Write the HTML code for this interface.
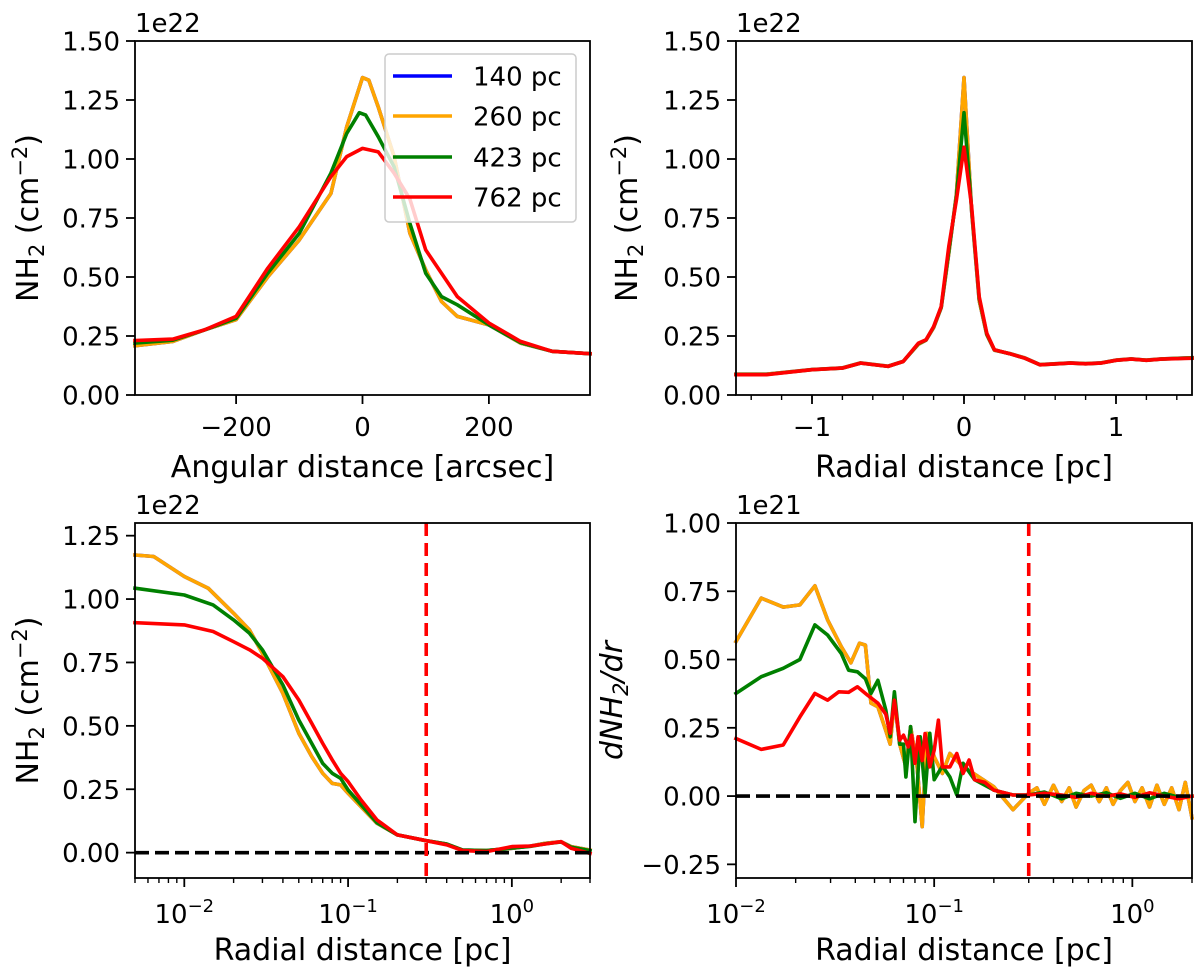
<!DOCTYPE html>
<html><head><meta charset="utf-8">
<style>
html,body{margin:0;padding:0;background:#fff;}
svg{display:block;font-family:"DejaVu Sans","Liberation Sans",sans-serif;}
</style></head>
<body>
<svg id="fig" width="1200" height="977" viewBox="0 0 1200 977" xmlns="http://www.w3.org/2000/svg"></svg>
<script>
// ---------- Panel 1: angular profile ----------
const p1X = [-360,-300,-250,-200,-150,-100,-50,-25,0,10,25,50,75,100,125,150,200,250,300,360];
const p1Orange = [0.209,0.227,0.276,0.319,0.50,0.657,0.854,1.136,1.345,1.334,1.22,1.01,0.685,0.53,0.396,0.333,0.297,0.22,0.185,0.175];
const p1GX = [-360,-300,-250,-200,-150,-100,-50,-25,-5,5,25,50,75,100,125,150,200,250,300,360];
const p1Green = [0.22,0.232,0.276,0.325,0.516,0.685,0.94,1.108,1.196,1.186,1.094,0.967,0.727,0.516,0.417,0.382,0.297,0.222,0.185,0.175];
const p1RX = [-360,-300,-250,-200,-150,-100,-50,-25,0,25,50,75,100,150,200,250,300,360];
const p1Red = [0.231,0.237,0.276,0.333,0.537,0.713,0.925,1.01,1.045,1.03,0.94,0.83,0.615,0.417,0.305,0.227,0.185,0.175];
const p1XTicks = [-200,0,200];
const p1XTickLabels = ["\u2212200","0","200"];
// ---------- Panel 2: radial profile ----------
const p2X = [-1.5,-1.3,-1.0,-0.8,-0.68,-0.5,-0.4,-0.3,-0.25,-0.2,-0.15,-0.1,-0.05,0,0.05,0.1,0.15,0.2,0.3,0.4,0.5,0.7,0.8,0.9,1.0,1.1,1.2,1.3,1.5];
const p2Red = [0.086,0.086,0.107,0.114,0.135,0.121,0.142,0.22,0.234,0.29,0.375,0.63,0.826,1.05,0.80,0.417,0.262,0.192,0.175,0.156,0.128,0.135,0.132,0.135,0.147,0.152,0.147,0.152,0.156];
const p2Orange = [0.088,0.088,0.108,0.115,0.136,0.122,0.143,0.215,0.232,0.285,0.37,0.60,0.85,1.345,0.78,0.40,0.255,0.19,0.176,0.157,0.129,0.136,0.133,0.136,0.148,0.153,0.148,0.153,0.158];
const p2Green = [0.087,0.087,0.107,0.114,0.135,0.121,0.142,0.218,0.233,0.288,0.372,0.61,0.84,1.196,0.79,0.41,0.258,0.191,0.175,0.156,0.128,0.135,0.132,0.135,0.147,0.152,0.147,0.152,0.157];
const p2XTicks = [-1,0,1];
const p2XTickLabels = ["\u22121","0","1"];
// ---------- Panel 3: log radial profile ----------
const p3OX = [0.005,0.0065,0.01,0.014,0.02,0.025,0.03,0.04,0.05,0.06,0.07,0.08,0.09,0.1,0.15,0.2,0.3,0.4,0.5,0.7,1.0,1.3,1.6,2.0,2.3,3.0];
const p3Orange = [1.174,1.168,1.089,1.043,0.944,0.878,0.786,0.628,0.471,0.379,0.313,0.273,0.267,0.234,0.116,0.07,0.047,0.034,0.01,0.008,0.017,0.026,0.037,0.043,0.024,0.01];
const p3GX = [0.005,0.01,0.015,0.02,0.025,0.03,0.04,0.05,0.06,0.07,0.08,0.09,0.1,0.15,0.2,0.3,0.4,0.5,0.7,1.0,1.3,1.6,2.0,2.3,3.0];
const p3Green = [1.043,1.016,0.977,0.918,0.865,0.80,0.661,0.523,0.431,0.352,0.313,0.293,0.247,0.118,0.07,0.047,0.034,0.01,0.008,0.018,0.025,0.035,0.042,0.022,0.008];
const p3RX = [0.005,0.01,0.015,0.02,0.025,0.03,0.04,0.05,0.06,0.07,0.08,0.09,0.1,0.12,0.15,0.2,0.3,0.4,0.5,0.7,1.0,1.3,1.6,2.0,2.3,3.0];
const p3Red = [0.907,0.898,0.872,0.832,0.80,0.767,0.694,0.602,0.51,0.431,0.366,0.313,0.28,0.208,0.129,0.07,0.047,0.031,0.008,0.004,0.024,0.026,0.034,0.043,0.017,-0.003];
const p3XTickExp = [-2,-1,0];
// ---------- Panel 4: derivative ----------
const p4OX = [0.01,0.0134,0.0173,0.021,0.025,0.029,0.034,0.038,0.042,0.045,0.048,0.052,0.057,0.06,0.063,0.067,0.072,0.076,0.082,0.087,0.092,0.1,0.11,0.12,0.14,0.16,0.2,0.25,0.3,0.33,0.36,0.4,0.44,0.48,0.52,0.57,0.62,0.68,0.74,0.8,0.87,0.95,1.03,1.12,1.22,1.33,1.45,1.58,1.72,1.85,2.0];
const p4Orange = [0.566,0.725,0.692,0.70,0.77,0.645,0.547,0.488,0.56,0.553,0.34,0.327,0.24,0.19,0.35,0.19,0.107,0.254,0.107,-0.112,0.23,0.144,0.083,0.156,0.107,0.08,0.034,-0.05,0.01,0.03,-0.03,0.04,-0.02,0.03,-0.04,0.02,0.04,-0.02,0.03,-0.03,0.02,0.05,-0.02,0.03,-0.04,0.04,-0.03,0.03,-0.05,0.05,-0.08];
const p4GX = [0.01,0.0134,0.0173,0.021,0.025,0.029,0.034,0.037,0.041,0.045,0.048,0.052,0.057,0.06,0.063,0.067,0.07,0.072,0.076,0.08,0.085,0.09,0.095,0.1,0.11,0.12,0.13,0.14,0.16,0.2,0.25,0.3,0.36,0.44,0.52,0.62,0.74,0.87,1.03,1.22,1.45,1.72,2.0];
const p4Green = [0.376,0.437,0.468,0.50,0.627,0.59,0.522,0.461,0.455,0.43,0.376,0.424,0.315,0.217,0.382,0.19,0.19,0.07,0.254,-0.094,0.217,0.01,0.23,0.06,0.11,0.07,0.004,0.12,0.06,0.022,0.004,0.004,0.015,-0.01,0.01,0.0,0.012,-0.008,0.01,-0.01,0.01,-0.005,0.0];
const p4RX = [0.01,0.0134,0.0173,0.021,0.025,0.029,0.033,0.037,0.041,0.046,0.052,0.057,0.06,0.063,0.067,0.07,0.074,0.077,0.08,0.083,0.087,0.09,0.095,0.1,0.105,0.11,0.12,0.13,0.14,0.15,0.16,0.18,0.2,0.25,0.3,0.36,0.44,0.52,0.62,0.74,0.87,1.03,1.22,1.45,1.72,2.0];
const p4Red = [0.211,0.171,0.187,0.29,0.376,0.351,0.382,0.38,0.40,0.37,0.34,0.30,0.23,0.351,0.205,0.223,0.18,0.223,0.12,0.217,0.13,0.229,0.107,0.168,0.278,0.107,0.107,0.156,0.083,0.132,0.06,0.05,0.022,0.004,0.004,0.01,0.004,-0.005,0.01,0.0,0.008,-0.005,0.012,0.0,-0.01,0.0];
const p4XTickExp = [-2,-1,0];

const NS = "http://www.w3.org/2000/svg";
const fig = document.getElementById('fig');
const TICKFS = 26, LABFS = 30;
function el(tag, attrs, parent){ const e=document.createElementNS(NS,tag); for(const k in attrs) e.setAttribute(k,attrs[k]); (parent||fig).appendChild(e); return e; }

function makeAxis(L,R,T,B,xmin,xmax,ymin,ymax,logx){
  const fx = logx ? v => L+(Math.log10(v)-Math.log10(xmin))/(Math.log10(xmax)-Math.log10(xmin))*(R-L)
                  : v => L+(v-xmin)/(xmax-xmin)*(R-L);
  const fy = v => B-(v-ymin)/(ymax-ymin)*(B-T);
  return {L,R,T,B,fx,fy};
}
function drawLine(ax, xs, ys, color, name, g){
  let d='';
  for(let i=0;i<xs.length;i++){ d+=(i?'L':'M')+ax.fx(xs[i]).toFixed(1)+' '+ax.fy(ys[i]).toFixed(1); }
  const p = el('path',{d:d,fill:'none',stroke:color,'stroke-width':3.6,'stroke-linejoin':'round','stroke-linecap':'square'},g);
  
  
}
function frame(ax, g){
  const r = el('rect',{x:ax.L,y:ax.T,width:ax.R-ax.L,height:ax.B-ax.T,fill:'none',stroke:'#000','stroke-width':1.8},g);
  
  
}
function yTicks(ax, vals, g){
  vals.forEach(v=>{
    const y = ax.fy(v);
    el('line',{x1:ax.L-9,x2:ax.L,y1:y,y2:y,stroke:'#000','stroke-width':1.8},g);
    const t = el('text',{x:ax.L-15,y:y+9.5,'text-anchor':'end','font-size':TICKFS},g);
    
    
    t.textContent = (v<0?'\u2212':'')+Math.abs(v).toFixed(2);
  });
}
function xTicksLin(ax, vals, labels, g){
  vals.forEach((v,i)=>{
    const x = ax.fx(v);
    el('line',{x1:x,x2:x,y1:ax.B,y2:ax.B+9,stroke:'#000','stroke-width':1.8},g);
    const t = el('text',{x:x,y:ax.B+41,'text-anchor':'middle','font-size':TICKFS},g);
    
    
    t.textContent = labels[i];
  });
}
function xTicksLog(ax, exps, xmin, xmax, g){
  for(let e=-3;e<=1;e++){
    for(let m=1;m<10;m++){
      const v = m*Math.pow(10,e);
      if(v<xmin*0.999||v>xmax*1.001) continue;
      const x = ax.fx(v);
      el('line',{x1:x,x2:x,y1:ax.B,y2:ax.B+(m===1?9:5),stroke:'#000','stroke-width':m===1?1.8:1.4},g);
    }
  }
  exps.forEach(e=>{
    const x = ax.fx(Math.pow(10,e));
    const t = el('text',{x:x,y:ax.B+45,'text-anchor':'middle','font-size':TICKFS},g);
    
    
    const a = document.createElementNS(NS,'tspan'); a.textContent='10'; t.appendChild(a);
    const b = document.createElementNS(NS,'tspan'); b.setAttribute('dy','-11'); b.setAttribute('font-size','18');
    b.textContent = e<0 ? '\u2212'+(-e) : String(e); t.appendChild(b);
  });
}
function xLabel(ax, txt, g){
  const t = el('text',{x:(ax.L+ax.R)/2,y:ax.B+82,'text-anchor':'middle','font-size':LABFS},g);
  
  
  t.textContent = txt;
}
function offsetText(ax, txt, g){
  const t = el('text',{x:ax.L,y:ax.T-9,'font-size':TICKFS},g);
  
  
  t.textContent = txt;
}
function yLabelNH(ax, cx, g){
  const cy=(ax.T+ax.B)/2;
  const t = el('text',{x:0,y:0,'text-anchor':'middle','font-size':LABFS,transform:`translate(${cx},${cy}) rotate(-90)`},g);
  
  
  t.innerHTML = 'NH<tspan dy="6" font-size="21">2</tspan><tspan dy="-6"> (cm</tspan><tspan dy="-11" font-size="21">\u22122</tspan><tspan dy="11">)</tspan>';
}
function group(name){ const g=el('g',{});   return g; }

// Panel 1
(function(){
  const g = group('panel-angular-profile');
  const ax = makeAxis(135,590,41,395,-360,360,0,1.5,false);
  drawLine(ax,p1X,p1Orange,'#0000FF','series-140pc',g);
  drawLine(ax,p1X,p1Orange,'#FFA500','series-260pc',g);
  drawLine(ax,p1GX,p1Green,'#008000','series-423pc',g);
  drawLine(ax,p1RX,p1Red,'#FF0000','series-762pc',g);
  frame(ax,g);
  yTicks(ax,[0,0.25,0.5,0.75,1.0,1.25,1.5],g);
  xTicksLin(ax,p1XTicks,p1XTickLabels,g);
  xLabel(ax,'Angular distance [arcsec]',g);
  offsetText(ax,'1e22',g);
  yLabelNH(ax,38,g);
  // legend
  const lg = group('legend');
  const box = el('rect',{x:385,y:54,width:191,height:168,rx:4,fill:'#fff','fill-opacity':0.8,stroke:'#ccc','stroke-width':1.5},lg);
   
  const names=['140 pc','260 pc','423 pc','762 pc'], cols=['#0000FF','#FFA500','#008000','#FF0000'], ys=[76,116,157,197];
  names.forEach((n,i)=>{
    const e = el('g',{},lg);
    
    
    el('line',{x1:393,x2:452,y1:ys[i],y2:ys[i],stroke:cols[i],'stroke-width':3.6},e);
    const t = el('text',{x:473,y:ys[i]+9.5,'font-size':TICKFS},e); t.textContent=n;
  });
})();

// Panel 2
(function(){
  const g = group('panel-radial-profile');
  const ax = makeAxis(736,1192,41,395,-1.5,1.5,0,1.5,false);
  drawLine(ax,p2X,p2Orange,'#0000FF','series-140pc',g);
  drawLine(ax,p2X,p2Orange,'#FFA500','series-260pc',g);
  drawLine(ax,p2X,p2Green,'#008000','series-423pc',g);
  drawLine(ax,p2X,p2Red,'#FF0000','series-762pc',g);
  frame(ax,g);
  yTicks(ax,[0,0.25,0.5,0.75,1.0,1.25,1.5],g);
  for(let k=-7;k<=7;k++){ const x=ax.fx(k*0.2); el('line',{x1:x,x2:x,y1:ax.B,y2:ax.B+5,stroke:'#000','stroke-width':1.4},g); }
  xTicksLin(ax,p2XTicks,p2XTickLabels,g);
  xLabel(ax,'Radial distance [pc]',g);
  offsetText(ax,'1e22',g);
  yLabelNH(ax,637,g);
})();

// Panel 3
(function(){
  const g = group('panel-log-profile');
  const ax = makeAxis(135,590,523,878,0.005,3,-0.1,1.3,true);
  drawLine(ax,p3OX,p3Orange,'#0000FF','series-140pc',g);
  drawLine(ax,p3OX,p3Orange,'#FFA500','series-260pc',g);
  drawLine(ax,p3GX,p3Green,'#008000','series-423pc',g);
  drawLine(ax,p3RX,p3Red,'#FF0000','series-762pc',g);
  const z = el('line',{x1:ax.L,x2:ax.R,y1:ax.fy(0),y2:ax.fy(0),stroke:'#000','stroke-width':3.6,'stroke-dasharray':'14 6'},g);
   
  const v = el('line',{x1:ax.fx(0.3),x2:ax.fx(0.3),y1:ax.T,y2:ax.B,stroke:'#FF0000','stroke-width':3.6,'stroke-dasharray':'13 7'},g);
   
  frame(ax,g);
  yTicks(ax,[0,0.25,0.5,0.75,1.0,1.25],g);
  xTicksLog(ax,p3XTickExp,0.005,3,g);
  xLabel(ax,'Radial distance [pc]',g);
  offsetText(ax,'1e22',g);
  yLabelNH(ax,38,g);
})();

// Panel 4
(function(){
  const g = group('panel-derivative');
  const ax = makeAxis(736,1192,523,878,0.01,2,-0.3,1.0,true);
  drawLine(ax,p4OX,p4Orange,'#0000FF','series-140pc',g);
  drawLine(ax,p4OX,p4Orange,'#FFA500','series-260pc',g);
  drawLine(ax,p4GX,p4Green,'#008000','series-423pc',g);
  drawLine(ax,p4RX,p4Red,'#FF0000','series-762pc',g);
  const z = el('line',{x1:ax.L,x2:ax.R,y1:ax.fy(0),y2:ax.fy(0),stroke:'#000','stroke-width':3.6,'stroke-dasharray':'14 6'},g);
   
  const v = el('line',{x1:ax.fx(0.3),x2:ax.fx(0.3),y1:ax.T,y2:ax.B,stroke:'#FF0000','stroke-width':3.6,'stroke-dasharray':'13 7'},g);
   
  frame(ax,g);
  yTicks(ax,[-0.25,0,0.25,0.5,0.75,1.0],g);
  xTicksLog(ax,p4XTickExp,0.01,2,g);
  xLabel(ax,'Radial distance [pc]',g);
  offsetText(ax,'1e21',g);
  const cy=(ax.T+ax.B)/2;
  const t = el('text',{x:0,y:0,'text-anchor':'middle','font-size':LABFS,'font-style':'italic',transform:`translate(622,${cy}) rotate(-90)`},g);
  
  
  t.innerHTML = 'dNH<tspan dy="6" font-size="21">2</tspan><tspan dy="-6">/dr</tspan>';
})();
</script>
</body></html>
